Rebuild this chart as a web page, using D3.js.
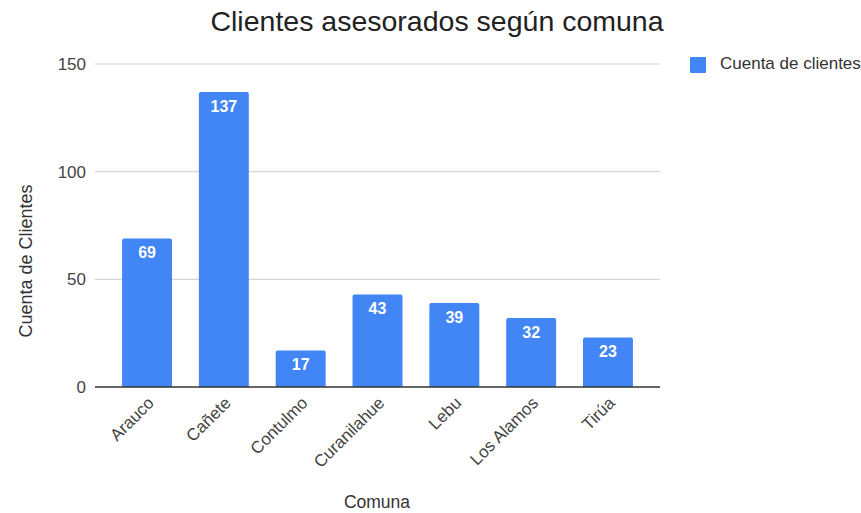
<!DOCTYPE html>
<html><head><meta charset="utf-8">
<script src="https://cdn.jsdelivr.net/npm/d3@7"></script>
<style>body{margin:0;background:#fff}svg{display:block}text{font-family:"Liberation Sans",Arial,sans-serif}</style>
</head><body><svg id="c" width="861" height="513"></svg>
<script>
const categories = ["Arauco","Cañete","Contulmo","Curanilahue","Lebu","Los Alamos","Tirúa"];
const values = [69,137,17,43,39,32,23];
const yTicks = [0,50,100,150];
const seriesName = "Cuenta de clientes";

const svg = d3.select("#c");
const plotL = 95, plotR = 660, plotT = 64, plotB = 387;
const x = d3.scaleBand().domain(categories).range([109, 646]).paddingInner(0.35).paddingOuter(0.17);
const y = d3.scaleLinear().domain([0,150]).range([plotB, plotT]);

// gridlines
svg.append("g").selectAll("line").data(yTicks.filter(d=>d>0)).join("line")
  .attr("x1", plotL).attr("x2", plotR).attr("y1", d=>y(d)).attr("y2", d=>y(d))
  .attr("stroke", "#d6d6d6").attr("stroke-width", 1.2);

// y tick labels
const yAxis = d3.axisLeft(y).tickValues(yTicks).tickSize(0).tickPadding(9);
const ya = svg.append("g").attr("transform", `translate(${plotL},0)`).call(yAxis);
ya.select(".domain").remove();
ya.selectAll("text").attr("font-size", 17).attr("fill", "#444").attr("font-family",'"Liberation Sans",Arial,sans-serif');

// bars
svg.append("g").selectAll("path").data(values).join("path")
  .attr("d", (d,i) => {
    const x0 = x(categories[i]), w = x.bandwidth(), y0 = y(d), r = 2;
    return `M${x0},${plotB}V${y0+r}Q${x0},${y0} ${x0+r},${y0}H${x0+w-r}Q${x0+w},${y0} ${x0+w},${y0+r}V${plotB}Z`;
  })
  .attr("fill", "#4285f4");

// bar labels
svg.append("g").selectAll("text").data(values).join("text")
  .attr("x", (d,i) => x(categories[i]) + x.bandwidth()/2)
  .attr("y", d => y(d) + 20)
  .attr("text-anchor", "middle").attr("font-size", 16).attr("font-weight", "bold")
  .attr("font-family", "Roboto,Arial,sans-serif")
  .attr("fill", "#fff").text(d => d);

// baseline
svg.append("line").attr("x1", plotL).attr("x2", plotR).attr("y1", plotB).attr("y2", plotB)
  .attr("stroke", "#333").attr("stroke-width", 1.3);

// x axis labels
const xAxis = d3.axisBottom(x).tickSize(0).tickPadding(0);
const xa = svg.append("g").attr("transform", `translate(0,${plotB})`).call(xAxis);
xa.select(".domain").remove();
xa.selectAll("text")
  .attr("font-size", 17).attr("fill", "#444").attr("font-family",'"Liberation Sans",Arial,sans-serif')
  .attr("text-anchor", "end").attr("dy", null)
  .attr("transform", "translate(8,17) rotate(-45)");

// axis titles
svg.append("text").attr("x", 377).attr("y", 508).attr("text-anchor", "middle")
  .attr("font-size", 17.5).attr("fill", "#333").text("Comuna");
svg.append("text").attr("transform", "translate(32,261) rotate(-90)").attr("text-anchor", "middle")
  .attr("font-size", 18).attr("fill", "#333").text("Cuenta de Clientes");

// title
svg.append("text").attr("x", 437).attr("y", 31).attr("text-anchor", "middle")
  .attr("font-size", 28.5).attr("fill", "#222").text("Clientes asesorados según comuna");

// legend
svg.append("rect").attr("x", 690).attr("y", 57).attr("width", 16).attr("height", 16).attr("rx", 1).attr("fill", "#4285f4");
svg.append("text").attr("x", 720).attr("y", 69).attr("font-size", 17).attr("fill", "#333").text(seriesName);
</script></body></html>
